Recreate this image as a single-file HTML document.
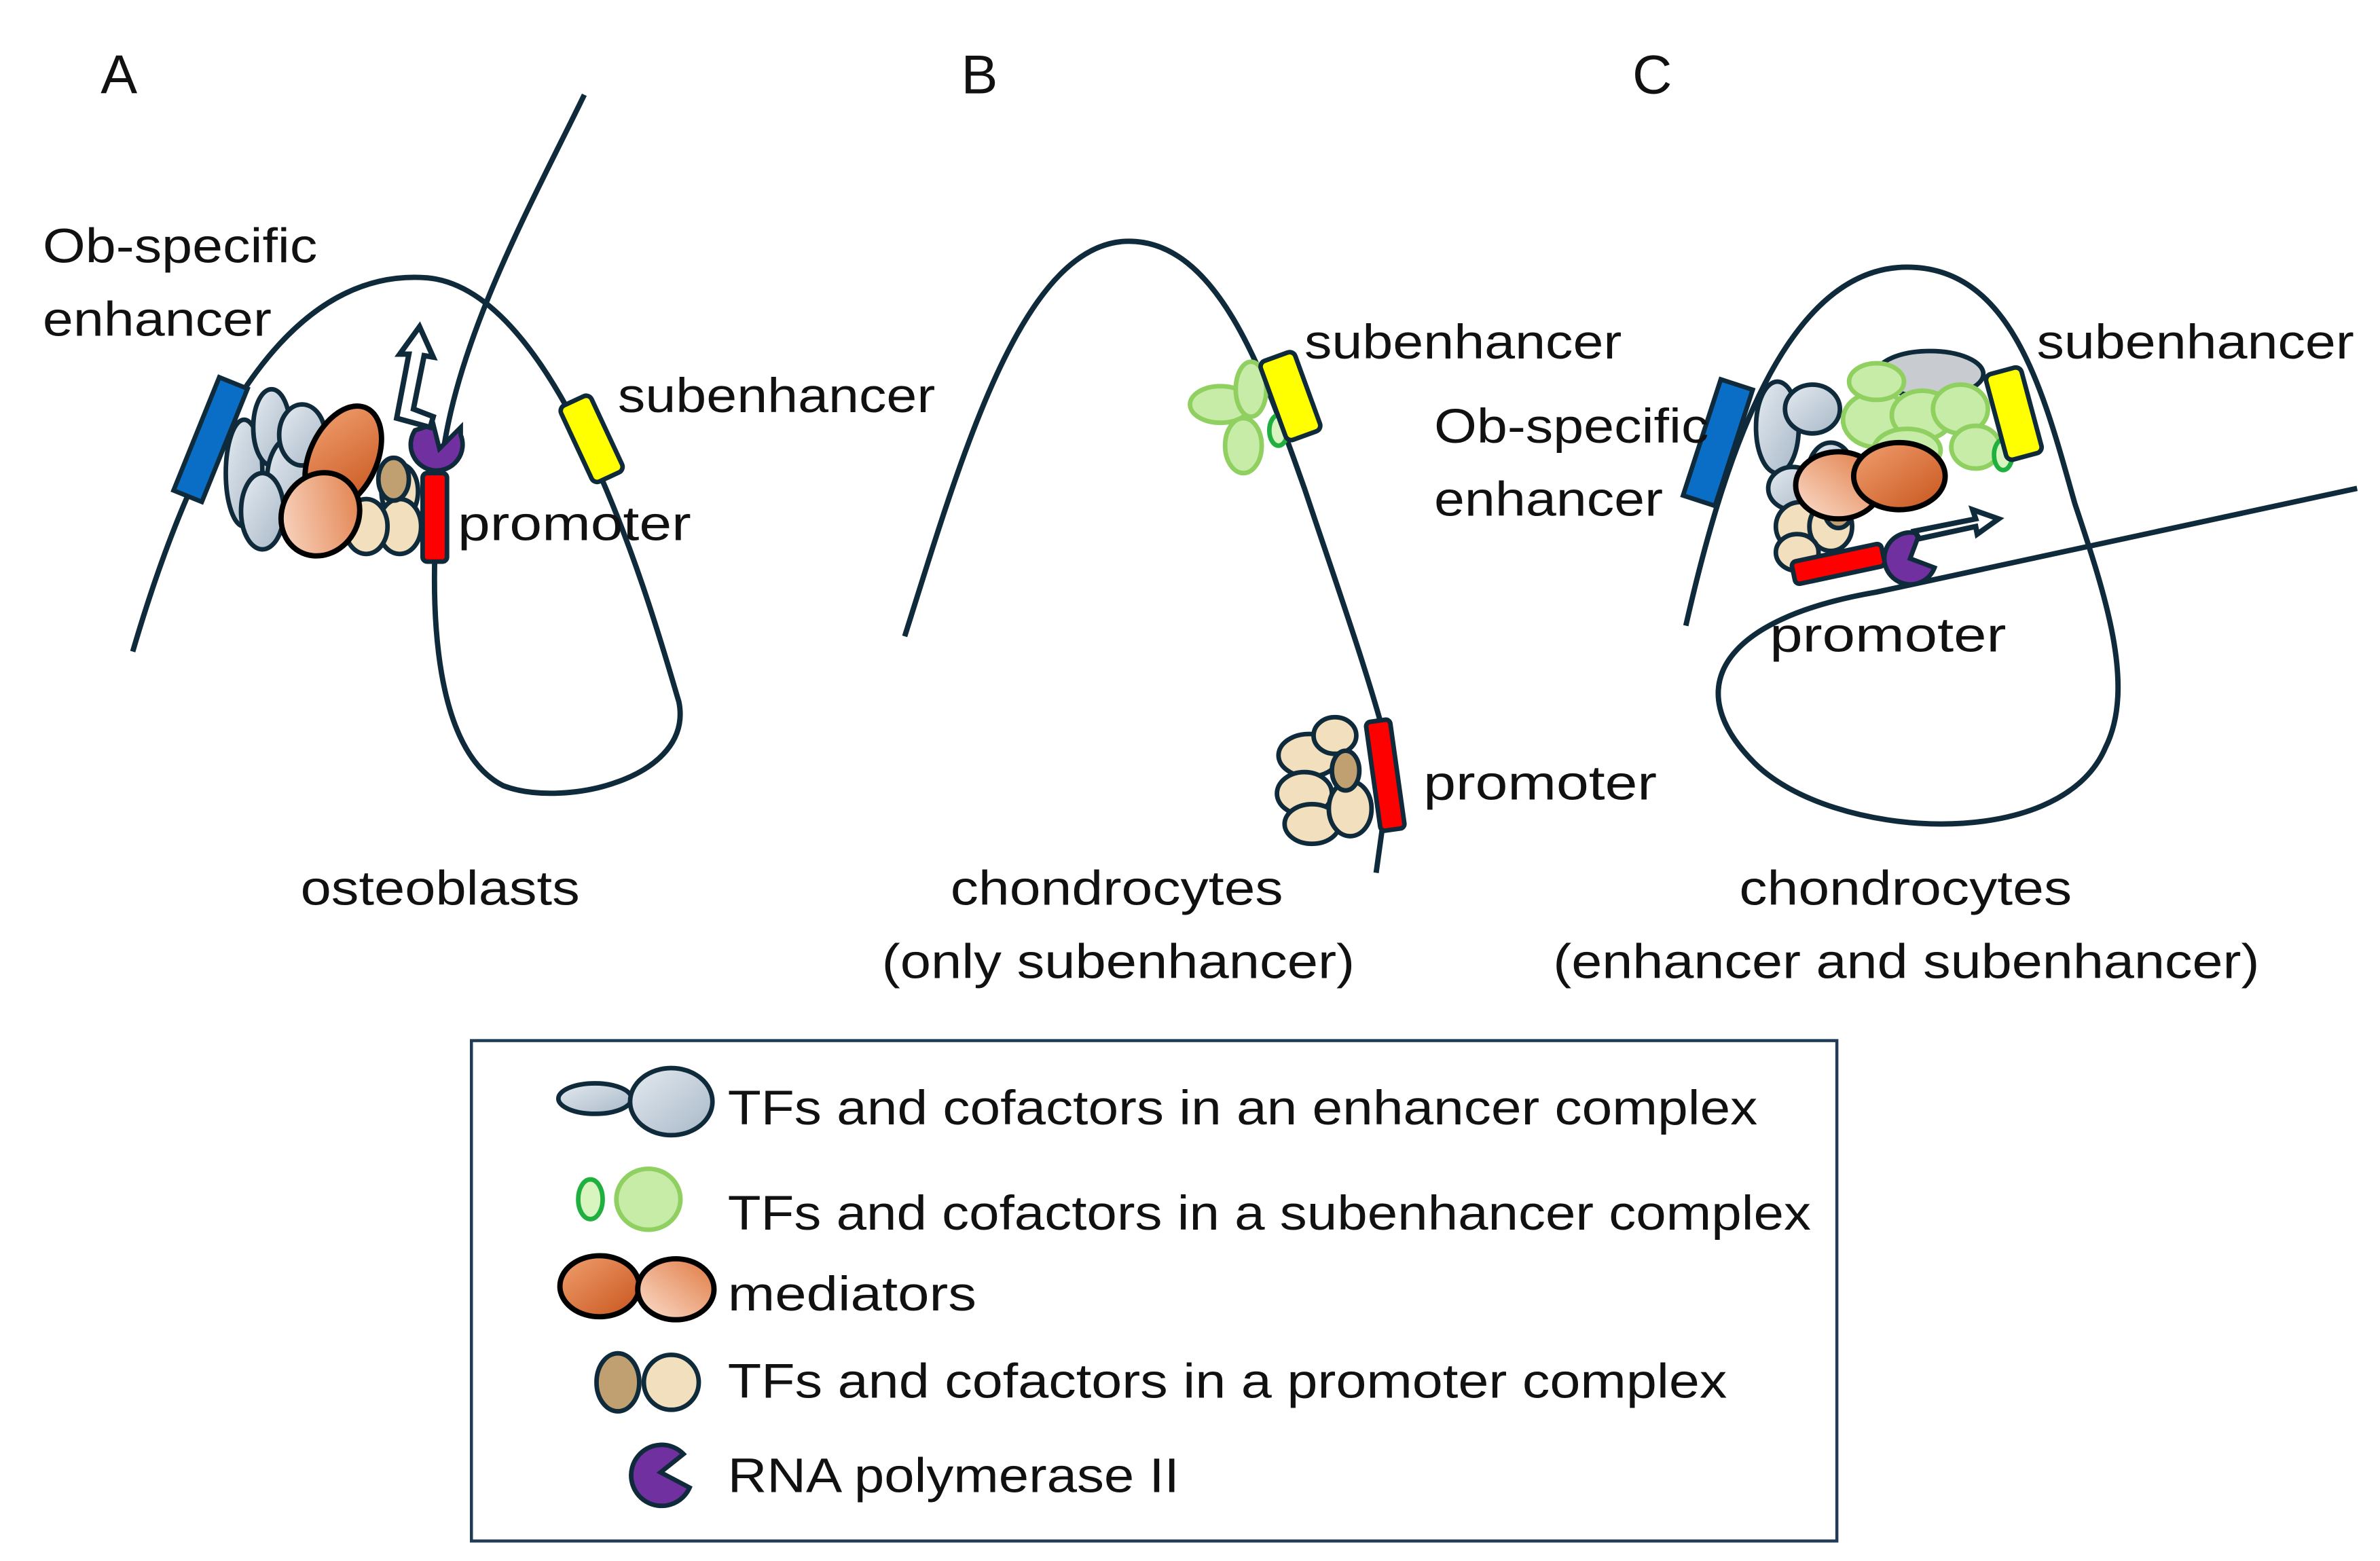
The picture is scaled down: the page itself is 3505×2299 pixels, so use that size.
<!DOCTYPE html>
<html><head><meta charset="utf-8"><style>
html,body{margin:0;padding:0;background:#fff;}
svg{display:block;}
text{font-family:"Liberation Sans",sans-serif;fill:#111;}
</style></head><body>
<svg width="3505" height="2299" viewBox="0 0 1560 1023" xmlns="http://www.w3.org/2000/svg">
<defs>
<linearGradient id="gb" x1="0" y1="0" x2="1" y2="1"><stop offset="0" stop-color="#e4eaf0"/><stop offset="1" stop-color="#a8b8c8"/></linearGradient>
<linearGradient id="go" x1="0" y1="0" x2="1" y2="1"><stop offset="0" stop-color="#f0a070"/><stop offset="1" stop-color="#c8541c"/></linearGradient>
<linearGradient id="go2" x1="0" y1="1" x2="1" y2="0"><stop offset="0" stop-color="#fbe0d0"/><stop offset="1" stop-color="#e07840"/></linearGradient>
</defs>
<g fill="none" stroke="#0f2a3a" stroke-width="3.5">
<path d="M87,427 C130,280 190,175 280,182 C370,190 430,410 445,460 C455,510 370,530 330,515 C280,490 280,380 290,300 C300,220 350,130 383,62"/>
<path d="M593,417 C630,300 670,158 740,158 C800,158 830,250 855,320 C875,380 900,450 912,500 L902,572"/>
<path d="M1105,410 C1130,300 1170,175 1250,175 C1320,175 1340,260 1360,330 C1380,390 1400,450 1380,490 C1350,560 1200,550 1150,500 C1100,450 1130,405 1230,388 L1545,320"/>
</g>
<g stroke="#0f2a3a" stroke-width="3">
<g fill="url(#gb)">
<ellipse cx="160" cy="310" rx="12" ry="35"/><ellipse cx="178" cy="280" rx="12" ry="25"/><ellipse cx="190" cy="315" rx="15" ry="28"/><ellipse cx="172" cy="335" rx="14" ry="25"/><ellipse cx="198" cy="285" rx="15" ry="20"/>
</g>
<g fill="#f1dfbd"><ellipse cx="262" cy="322" rx="12" ry="18"/><ellipse cx="262" cy="345" rx="14" ry="18"/><ellipse cx="240" cy="345" rx="14" ry="18"/></g>
<ellipse cx="258" cy="314" rx="10" ry="14" fill="#c0a070"/>
<ellipse cx="225" cy="300" rx="22" ry="36" transform="rotate(25 225 300)" fill="url(#go)" stroke="#000" stroke-width="3.5"/>
<ellipse cx="210" cy="337" rx="25" ry="28" transform="rotate(30 210 337)" fill="url(#go2)" stroke="#000" stroke-width="3.5"/>
<rect x="128" y="248" width="20" height="80" transform="rotate(22 138 288)" fill="#0a6ec6"/>
<rect x="377" y="260" width="22" height="55" rx="4" transform="rotate(-25 388 288)" fill="#ffff00"/>
<rect x="277" y="310" width="16" height="58" rx="3" fill="#ff0000"/>
<path d="M272,282 A17,17 0 1 0 302,285 L302,280 L288,294 L284,278 Z" fill="#7030a0"/>
<path d="M260,274 L268,232 L262,232 L275,214 L284,234 L278,233 L271,268 L284,273 L282,280 Z" fill="#fff" stroke-width="3.5"/>
<g fill="#c6eca8" stroke="#8fd060"><ellipse cx="800" cy="265" rx="20" ry="12"/><ellipse cx="820" cy="255" rx="10" ry="18"/><ellipse cx="815" cy="292" rx="12" ry="18"/></g>
<ellipse cx="838" cy="282" rx="6" ry="10" fill="#d8f5c0" stroke="#20b040"/>
<rect x="834" y="232" width="24" height="55" rx="4" transform="rotate(-20 846 260)" fill="#ffff00"/>
<g fill="#f1dfbd"><ellipse cx="858" cy="495" rx="20" ry="14"/><ellipse cx="855" cy="520" rx="18" ry="14"/><ellipse cx="860" cy="540" rx="18" ry="13"/><ellipse cx="885" cy="530" rx="14" ry="18"/><ellipse cx="875" cy="482" rx="14" ry="12"/></g>
<ellipse cx="882" cy="505" rx="9" ry="13" fill="#c0a070"/>
<rect x="900" y="472" width="16" height="72" rx="3" transform="rotate(-8 908 508)" fill="#ff0000"/>
<g fill="url(#gb)"><ellipse cx="1165" cy="280" rx="14" ry="30"/><ellipse cx="1188" cy="268" rx="18" ry="16"/><ellipse cx="1175" cy="320" rx="16" ry="14"/><ellipse cx="1200" cy="310" rx="15" ry="20"/><ellipse cx="1265" cy="245" rx="35" ry="15" fill="#c8ccd0"/></g>
<g fill="#c6eca8" stroke="#8fd060"><ellipse cx="1230" cy="275" rx="22" ry="18"/><ellipse cx="1260" cy="272" rx="20" ry="16"/><ellipse cx="1285" cy="268" rx="18" ry="16"/><ellipse cx="1250" cy="295" rx="22" ry="14"/><ellipse cx="1295" cy="293" rx="16" ry="14"/><ellipse cx="1230" cy="250" rx="18" ry="12"/></g>
<ellipse cx="1313" cy="298" rx="6" ry="10" fill="#d8f5c0" stroke="#20b040"/>
<rect x="1308" y="242" width="24" height="58" rx="4" transform="rotate(-15 1320 271)" fill="#ffff00"/>
<rect x="1115" y="250" width="22" height="80" transform="rotate(18 1126 290)" fill="#0a6ec6"/>
<g fill="#f1dfbd"><ellipse cx="1180" cy="345" rx="16" ry="16"/><ellipse cx="1200" cy="345" rx="14" ry="16"/><ellipse cx="1178" cy="362" rx="14" ry="12"/></g>
<ellipse cx="1205" cy="335" rx="9" ry="11" fill="#c0a070"/>
<rect x="1175" y="362" width="60" height="15" rx="3" transform="rotate(-12 1205 370)" fill="#ff0000"/>
<ellipse cx="1205" cy="318" rx="28" ry="22" fill="url(#go2)" stroke="#000" stroke-width="3.5"/>
<ellipse cx="1245" cy="312" rx="30" ry="22" fill="url(#go)" stroke="#000" stroke-width="3.5"/>
<path d="M1268,372 A17,17 0 1 1 1258,350 L1252,366 Z" fill="#7030a0"/>
<path d="M1255,348 L1295,340 L1293,334 L1310,340 L1296,350 L1295,345 L1258,353 Z" fill="#fff" stroke-width="3.5"/>
<ellipse cx="390" cy="720" rx="24" ry="10" fill="url(#gb)"/>
<ellipse cx="440" cy="722" rx="27" ry="22" fill="url(#gb)"/>
<ellipse cx="387" cy="786" rx="8" ry="13" fill="#d8f5c0" stroke="#20b040"/>
<ellipse cx="425" cy="786" rx="21" ry="20" fill="#c6eca8" stroke="#8fd060"/>
<ellipse cx="393" cy="843" rx="26" ry="20" fill="url(#go)" stroke="#000" stroke-width="3.5"/>
<ellipse cx="443" cy="845" rx="25" ry="20" fill="url(#go2)" stroke="#000" stroke-width="3.5"/>
<ellipse cx="405" cy="906" rx="14" ry="19" fill="#c0a070"/>
<ellipse cx="440" cy="906" rx="18" ry="18" fill="#f1dfbd"/>
<path d="M452,975 A20,20 0 1 1 448,953 L433,965 Z" fill="#7030a0"/>
</g>
<rect x="309" y="682" width="895" height="328" fill="none" stroke="#1f3b55" stroke-width="2"/>
<g font-size="32">
<text x="66" y="61" font-size="36">A</text>
<text x="630" y="61" font-size="36">B</text>
<text x="1070" y="61" font-size="36">C</text>
<text x="28" y="172" textLength="180" lengthAdjust="spacingAndGlyphs">Ob-specific</text>
<text x="28" y="220" textLength="150" lengthAdjust="spacingAndGlyphs">enhancer</text>
<text x="405" y="270" textLength="208" lengthAdjust="spacingAndGlyphs">subenhancer</text>
<text x="300" y="354" textLength="153" lengthAdjust="spacingAndGlyphs">promoter</text>
<text x="197" y="593" textLength="183" lengthAdjust="spacingAndGlyphs">osteoblasts</text>
<text x="855" y="235" textLength="208" lengthAdjust="spacingAndGlyphs">subenhancer</text>
<text x="933" y="524" textLength="153" lengthAdjust="spacingAndGlyphs">promoter</text>
<text x="623" y="593" textLength="218" lengthAdjust="spacingAndGlyphs">chondrocytes</text>
<text x="578" y="641" textLength="310" lengthAdjust="spacingAndGlyphs">(only subenhancer)</text>
<text x="1335" y="235" textLength="208" lengthAdjust="spacingAndGlyphs">subenhancer</text>
<text x="940" y="290" textLength="180" lengthAdjust="spacingAndGlyphs">Ob-specific</text>
<text x="940" y="338" textLength="150" lengthAdjust="spacingAndGlyphs">enhancer</text>
<text x="1160" y="427" textLength="155" lengthAdjust="spacingAndGlyphs">promoter</text>
<text x="1140" y="593" textLength="218" lengthAdjust="spacingAndGlyphs">chondrocytes</text>
<text x="1018" y="641" textLength="463" lengthAdjust="spacingAndGlyphs">(enhancer and subenhancer)</text>
<text x="477" y="737" textLength="675" lengthAdjust="spacingAndGlyphs">TFs and cofactors in an enhancer complex</text>
<text x="477" y="806" textLength="710" lengthAdjust="spacingAndGlyphs">TFs and cofactors in a subenhancer complex</text>
<text x="477" y="859" textLength="163" lengthAdjust="spacingAndGlyphs">mediators</text>
<text x="477" y="916" textLength="655" lengthAdjust="spacingAndGlyphs">TFs and cofactors in a promoter complex</text>
<text x="477" y="978" textLength="296" lengthAdjust="spacingAndGlyphs">RNA polymerase II</text>
</g>
</svg>
</body></html>
